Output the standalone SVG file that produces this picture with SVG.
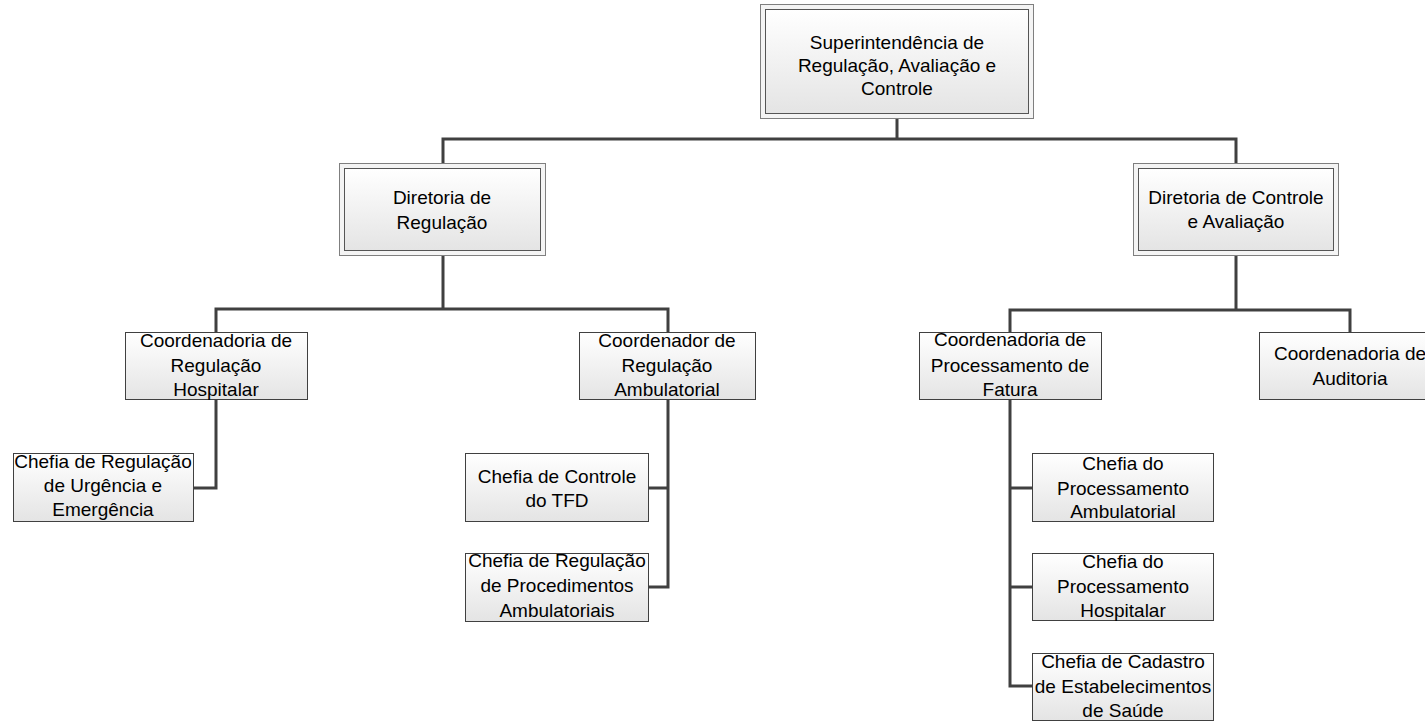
<svg xmlns="http://www.w3.org/2000/svg" width="1425" height="721" viewBox="0 0 1425 721">
<defs>
<linearGradient id="g" x1="0" y1="0" x2="0" y2="1">
<stop offset="0" stop-color="#ffffff"/>
<stop offset="1" stop-color="#e4e4e4"/>
</linearGradient>
<style>
.b{fill:url(#g);stroke:#404040;stroke-width:1}
.o{fill:#f4f4f4;stroke:#7f7f7f;stroke-width:1}
.i{fill:url(#g);stroke:#555555;stroke-width:1}
text{font-family:"Liberation Sans",Arial,sans-serif;font-size:19px;fill:#000;text-anchor:middle}
.c{fill:none;stroke:#404040;stroke-width:3}
</style>
</defs>
<rect width="1425" height="721" fill="#ffffff"/>
<g id="connectors">
<path class="c" d="M897 118V139M443 163V139H1236V163"/>
<path class="c" d="M443 255V309M216 332V309H668V332"/>
<path class="c" d="M1236 255V310M1010 332V310H1350V332"/>
<path class="c" d="M216 399V488H193"/>
<path class="c" d="M668 399V587H648M668 488H648"/>
<path class="c" d="M1010 399V686H1032M1010 488H1032M1010 587H1032"/>
</g>
<g id="n-super">
<rect class="o" x="760.5" y="4.5" width="273" height="114"/>
<rect class="i" x="765.5" y="9.5" width="263" height="104"/>
<text x="897" y="49">Superintendência de</text>
<text x="897" y="72">Regulação, Avaliação e</text>
<text x="897" y="95">Controle</text>
</g>
<g id="n-dir-reg">
<rect class="o" x="339.5" y="163.5" width="206" height="92"/>
<rect class="i" x="344.5" y="168.5" width="196" height="82"/>
<text x="442" y="204">Diretoria de</text>
<text x="442" y="229">Regulação</text>
</g>
<g id="n-dir-ctrl">
<rect class="o" x="1133.5" y="163.5" width="205" height="92"/>
<rect class="i" x="1138.5" y="168.5" width="195" height="82"/>
<text x="1236" y="204">Diretoria de Controle</text>
<text x="1236" y="228">e Avaliação</text>
</g>
<g id="n-coord-hosp">
<rect class="b" x="125.5" y="332.5" width="182" height="67"/>
<text x="216" y="347">Coordenadoria de</text>
<text x="216" y="372">Regulação</text>
<text x="216" y="396">Hospitalar</text>
</g>
<g id="n-coord-amb">
<rect class="b" x="579.5" y="332.5" width="176" height="67"/>
<text x="667" y="347">Coordenador de</text>
<text x="667" y="372">Regulação</text>
<text x="667" y="396">Ambulatorial</text>
</g>
<g id="n-coord-proc">
<rect class="b" x="919.5" y="332.5" width="182" height="67"/>
<text x="1010" y="346">Coordenadoria de</text>
<text x="1010" y="372">Processamento de</text>
<text x="1010" y="396">Fatura</text>
</g>
<g id="n-coord-aud">
<rect class="b" x="1259.5" y="332.5" width="182" height="67"/>
<text x="1350" y="360">Coordenadoria de</text>
<text x="1350" y="385">Auditoria</text>
</g>
<g id="n-chefia-urg">
<rect class="b" x="13.5" y="453.5" width="180" height="68"/>
<text x="103" y="468">Chefia de Regulação</text>
<text x="103" y="492">de Urgência e</text>
<text x="103" y="516">Emergência</text>
</g>
<g id="n-chefia-tfd">
<rect class="b" x="465.5" y="453.5" width="183" height="68"/>
<text x="557" y="483">Chefia de Controle</text>
<text x="557" y="507">do TFD</text>
</g>
<g id="n-chefia-proc-reg">
<rect class="b" x="465.5" y="553.5" width="183" height="68"/>
<text x="557" y="567">Chefia de Regulação</text>
<text x="557" y="592">de Procedimentos</text>
<text x="557" y="617">Ambulatoriais</text>
</g>
<g id="n-chefia-proc-amb">
<rect class="b" x="1032.5" y="453.5" width="181" height="68"/>
<text x="1123" y="470">Chefia do</text>
<text x="1123" y="495">Processamento</text>
<text x="1123" y="518">Ambulatorial</text>
</g>
<g id="n-chefia-proc-hosp">
<rect class="b" x="1032.5" y="553.5" width="181" height="67"/>
<text x="1123" y="568">Chefia do</text>
<text x="1123" y="593">Processamento</text>
<text x="1123" y="617">Hospitalar</text>
</g>
<g id="n-chefia-cad">
<rect class="b" x="1032.5" y="653.5" width="181" height="67"/>
<text x="1123" y="668">Chefia de Cadastro</text>
<text x="1123" y="693">de Estabelecimentos</text>
<text x="1123" y="717">de Saúde</text>
</g>
</svg>
